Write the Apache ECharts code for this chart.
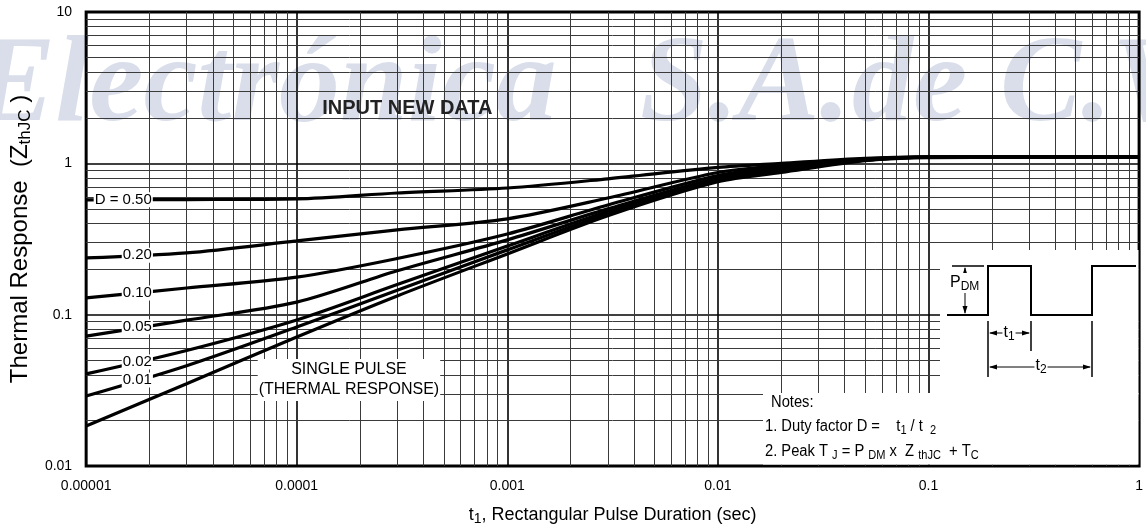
<!DOCTYPE html>
<html>
<head>
<meta charset="utf-8">
<script src="https://cdn.jsdelivr.net/npm/echarts@6/dist/echarts.min.js"></script>
<style>
  html, body { margin: 0; padding: 0; background: #fff; }
  #chart { width: 1146px; height: 531px; }
</style>
</head>
<body>
<div id="chart"></div>
<script>
// pulse duration t1 (sec)
var xVals = [0.00001, 0.00003, 0.0001, 0.0003, 0.001, 0.003, 0.01, 0.02, 0.05, 0.1, 1];
// Zth curves for each duty factor
var d50 = [0.574, 0.576, 0.582, 0.637, 0.687, 0.79, 0.94, 1.0, 1.08, 1.10, 1.10];
var d20 = [0.237, 0.256, 0.307, 0.363, 0.43, 0.59, 0.87, 0.97, 1.07, 1.10, 1.10];
var d10 = [0.129, 0.15, 0.177, 0.235, 0.341, 0.53, 0.83, 0.95, 1.06, 1.10, 1.10];
var d05 = [0.0722, 0.092, 0.121, 0.195, 0.312, 0.50, 0.80, 0.93, 1.06, 1.10, 1.10];
var d02 = [0.0406, 0.058, 0.0923, 0.158, 0.284, 0.48, 0.78, 0.91, 1.05, 1.10, 1.10];
var d01 = [0.029, 0.046, 0.0829, 0.145, 0.268, 0.465, 0.77, 0.89, 1.05, 1.10, 1.10];
var single = [0.0184, 0.035, 0.0712, 0.133, 0.252, 0.45, 0.755, 0.87, 1.04, 1.09, 1.10];

var curveNames = ['D = 0.50', '0.20', '0.10', '0.05', '0.02', '0.01', 'SINGLE PULSE'];
var xTickLabels = ['0.00001', '0.0001', '0.001', '0.01', '0.1', '1'];
var yTickLabels = ['0.01', '0.1', '1', '10'];

// where the curve labels sit (axis values)
var labelAt = [[1.5e-5, 0.575], [1.75e-5, 0.247], [1.75e-5, 0.139], [1.75e-5, 0.083], [1.75e-5, 0.0487], [1.75e-5, 0.037]];

// log paper grid: 2..9 in every decade
var xMinor = [], yMinor = [];
for (var e = -5; e < 0; e++) {
  for (var m = 2; m <= 9; m++) xMinor.push(+(m * Math.pow(10, e)).toPrecision(3));
}
for (var e2 = -2; e2 < 1; e2++) {
  for (var m2 = 2; m2 <= 9; m2++) yMinor.push(+(m2 * Math.pow(10, e2)).toPrecision(3));
}

var font = 'Liberation Sans, Arial, sans-serif';
var chart = echarts.init(document.getElementById('chart'));

var gridLines = [];
xMinor.forEach(function (v) { gridLines.push({ coords: [[v, 0.01], [v, 10]] }); });
yMinor.forEach(function (v) { gridLines.push({ coords: [[0.00001, v], [1, v]] }); });

var seriesList = [{
  type: 'lines',
  coordinateSystem: 'cartesian2d',
  polyline: false,
  z: 1,
  silent: true,
  animation: false,
  lineStyle: { color: '#3a3a3a', width: 1, opacity: 1, curveness: 0 },
  data: gridLines
}];

var allCurves = [d50, d20, d10, d05, d02, d01, single];
allCurves.forEach(function (ys, i) {
  var s = {
    name: curveNames[i],
    type: 'line',
    z: 3,
    symbol: 'none',
    smooth: 0.3,
    silent: true,
    lineStyle: { color: '#000', width: 3.2 },
    data: xVals.map(function (x, j) { return [x, ys[j]]; })
  };
  var marks = [];
  if (i < 6) {
    marks.push({ coord: labelAt[i], label: { formatter: curveNames[i] } });
  }
  if (i === 6) {
    marks.push({
      coord: [1.77e-4, 0.037],
      label: { formatter: 'SINGLE PULSE\n(THERMAL RESPONSE)', fontSize: 16, lineHeight: 20, padding: [1, 1] }
    });
  }
  if (i === 0) {
    marks.push({
      coord: [3.35e-4, 2.29],
      label: { formatter: 'INPUT NEW DATA', fontSize: 20, fontWeight: 'bold', color: '#222', backgroundColor: 'transparent' }
    });
  }
  s.markPoint = {
    symbol: 'circle',
    symbolSize: 0,
    silent: true,
    animation: false,
    label: {
      show: true, position: 'inside', color: '#000', fontSize: 15, fontFamily: font,
      backgroundColor: '#fff', padding: [0, 1]
    },
    data: marks
  };
  seriesList.push(s);
});

var wm = { fill: '#d9deea', font: 'italic bold 122px "Liberation Serif", serif', verticalAlign: 'middle' };
function wmText(str, x) {
  return { type: 'text', z: -100, x: x, y: 88, style: Object.assign({ text: str }, wm) };
}

var subRich = {
  a: { fontSize: 16, lineHeight: 20, fontFamily: font, color: '#000' },
  s: { fontSize: 12, lineHeight: 10, fontFamily: font, color: '#000', verticalAlign: 'bottom' }
};

function ln(x1, y1, x2, y2, w) {
  return { type: 'line', z: 102, shape: { x1: x1, y1: y1, x2: x2, y2: y2 }, style: { stroke: '#000', lineWidth: w || 1 } };
}
function head(pts) {
  return { type: 'polygon', z: 103, shape: { points: pts }, style: { fill: '#000' } };
}

var graphics = [
  wmText('Electrónica', -26),
  wmText('S.A.', 640),
  wmText('de', 852),
  wmText('C.V.', 1000),
  // white areas for the inset and notes
  { type: 'rect', z: 100, shape: { x: 940, y: 250, width: 198.5, height: 144 }, style: { fill: '#fff' } },
  { type: 'rect', z: 100, shape: { x: 763, y: 393, width: 375.5, height: 71.5 }, style: { fill: '#fff' } },
  // waveform
  { type: 'polyline', z: 102, shape: { points: [[947, 315], [988, 315], [988, 266], [1031, 266], [1031, 315], [1092, 315], [1092, 266], [1136, 266]] }, style: { stroke: '#000', lineWidth: 2, fill: null } },
  ln(952, 266, 984, 266, 1.5),
  ln(965, 268, 965, 313),
  head([[965, 267], [962.5, 275], [967.5, 275]]),
  head([[965, 314], [962.5, 306], [967.5, 306]]),
  ln(988, 321, 988, 377, 1.5),
  ln(1031, 321, 1031, 351, 1.5),
  ln(1092, 321, 1092, 377, 1.5),
  ln(990, 333, 1029, 333),
  head([[989, 333], [997, 330.5], [997, 335.5]]),
  head([[1030, 333], [1022, 330.5], [1022, 335.5]]),
  ln(990, 367, 1090, 367),
  head([[989, 367], [997, 364.5], [997, 369.5]]),
  head([[1091, 367], [1083, 364.5], [1083, 369.5]]),
  { type: 'text', z: 104, x: 950, y: 283, style: { text: '{a|P}{s|DM}', rich: subRich, verticalAlign: 'middle', backgroundColor: '#fff' } },
  { type: 'text', z: 104, x: 1009, y: 333, style: { text: '{a|t}{s|1}', rich: subRich, align: 'center', verticalAlign: 'middle', backgroundColor: '#fff', padding: [0, 1] } },
  { type: 'text', z: 104, x: 1041, y: 366, style: { text: '{a|t}{s|2}', rich: subRich, align: 'center', verticalAlign: 'middle', backgroundColor: '#fff', padding: [0, 1] } },
  // notes
  { type: 'text', z: 104, x: 771, y: 403, scaleX: 0.92, style: { text: '{a|Notes:}', rich: subRich, verticalAlign: 'middle' } },
  { type: 'text', z: 104, x: 765, y: 427, scaleX: 0.92, style: { text: '{a|1. Duty factor D =    t}{s|1}{a| / t }{s| 2}', rich: subRich, verticalAlign: 'middle' } },
  { type: 'text', z: 104, x: 765, y: 452, scaleX: 0.92, style: { text: '{a|2. Peak T }{s|J}{a| = P }{s|DM}{a| x  Z }{s|thJC}{a|  + T}{s|C}', rich: subRich, verticalAlign: 'middle' } }
];

chart.setOption({
  animation: false,
  backgroundColor: '#fff',
  grid: {
    left: 82, right: 6, top: 12, bottom: 65,
    show: true, borderColor: '#000', borderWidth: 3, backgroundColor: 'transparent'
  },
  xAxis: {
    type: 'log', logBase: 10, min: 0.00001, max: 1, splitNumber: 5,
    axisLine: { show: false }, axisTick: { show: false },
    axisLabel: {
      fontSize: 14, color: '#000', fontFamily: font, margin: 13,
      formatter: function (v) { return xTickLabels[Math.round(Math.log10(v)) + 5]; }
    },
    splitLine: { show: true, lineStyle: { color: '#000', width: 1.6 } },
    name: '{t|t}{s|1}{t|, Rectangular Pulse Duration (sec)}',
    nameLocation: 'middle', nameGap: 38,
    nameTextStyle: {
      rich: {
        t: { fontSize: 18, lineHeight: 22, fontFamily: font, color: '#000' },
        s: { fontSize: 14, lineHeight: 12, fontFamily: font, color: '#000', verticalAlign: 'bottom' }
      }
    }
  },
  yAxis: {
    type: 'log', logBase: 10, min: 0.01, max: 10, splitNumber: 3,
    axisLine: { show: false }, axisTick: { show: false },
    axisLabel: {
      fontSize: 14, color: '#000', fontFamily: font, margin: 14,
      formatter: function (v) { return yTickLabels[Math.round(Math.log10(v)) + 2]; }
    },
    splitLine: { show: true, lineStyle: { color: '#000', width: 1.6 } },
    name: '{t|Thermal Response  (Z}{s|thJC}{t| )}',
    nameLocation: 'middle', nameRotate: 90, nameGap: 47,
    nameTextStyle: {
      rich: {
        t: { fontSize: 24, lineHeight: 28, fontFamily: font, color: '#000' },
        s: { fontSize: 17, lineHeight: 16, fontFamily: font, color: '#000', verticalAlign: 'bottom' }
      }
    }
  },
  graphic: graphics,
  series: seriesList
});
</script>
</body>
</html>
